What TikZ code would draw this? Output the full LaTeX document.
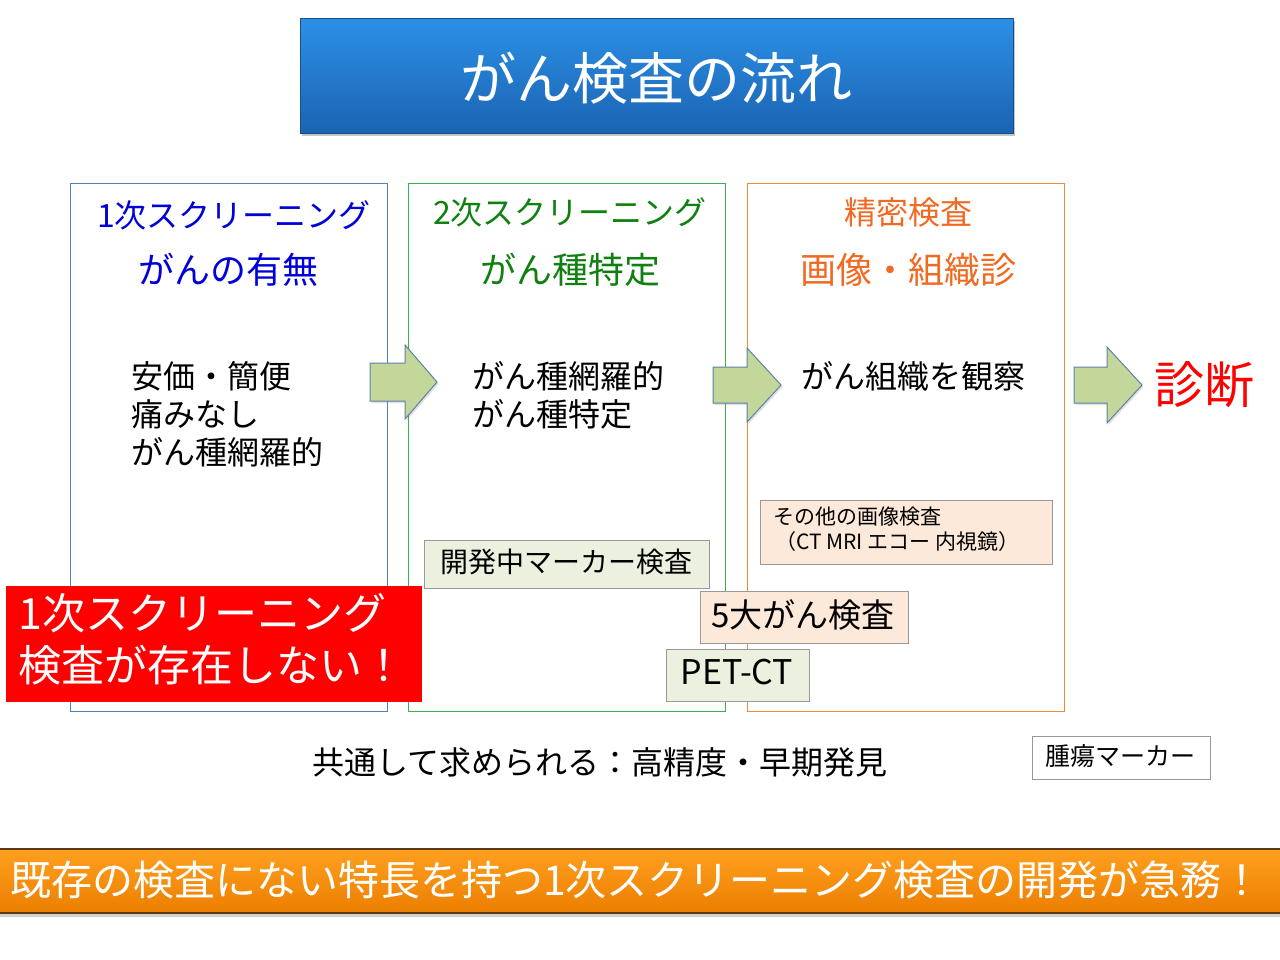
\documentclass[tikz,border=0pt]{standalone}
\usepackage{fontspec}
\setmainfont{Noto Sans CJK JP}
\usetikzlibrary{shadows}
\definecolor{ttop}{HTML}{2C90E6}
\definecolor{tbot}{HTML}{1B63B2}
\definecolor{bblue}{HTML}{5082C0}
\definecolor{bgreen}{HTML}{3CB050}
\definecolor{borange}{HTML}{F08A40}
\definecolor{tblue}{HTML}{0000D8}
\definecolor{tgreen}{HTML}{108010}
\definecolor{torange}{HTML}{F06A22}
\definecolor{arrfill}{HTML}{C4D79B}
\definecolor{arrdraw}{HTML}{5E80A8}
\definecolor{lgreen}{HTML}{EBF1DE}
\definecolor{peach}{HTML}{FDE9D9}
\definecolor{otop}{HTML}{FFA020}
\definecolor{obot}{HTML}{EC7E00}
\definecolor{obrd}{HTML}{5A3A12}
\newcommand\fz[2]{\fontsize{#1pt}{#2pt}\selectfont}
\begin{document}
\begin{tikzpicture}[x=1pt,y=-1pt,
  stage/.style={draw=#1, line width=1.1pt, minimum width=317pt, minimum height=528pt, anchor=north west, inner sep=0pt},
  tag/.style={draw=gray!80, line width=0.8pt, fill=#1, anchor=north west, inner sep=0pt},
  txt/.style={inner sep=0pt, align=left},
  blockarr/.style={fill=arrfill, draw=arrdraw, line width=1pt, line join=miter,
     drop shadow={shadow xshift=1.5pt, shadow yshift=-2pt, opacity=0.25}}]
\useasboundingbox (0,0) rectangle (1280,959);
\fill[white] (0,0) rectangle (1280,959);

% title
\node[anchor=north west, minimum width=713pt, minimum height=115pt, inner sep=0pt,
  top color=ttop, bottom color=tbot, draw=tbot!80!black, line width=0.6pt,
  drop shadow={shadow xshift=2pt, shadow yshift=-3pt, opacity=0.45}] (title) at (300,18) {};
\node[txt, text=white, font=\fz{56}{60}] (titletxt) at (656,78) {がん検査の流れ};

% stage boxes
\node[stage=bblue] (b1) at (70,183) {};
\node[stage=bgreen] (b2) at (408,183) {};
\node[stage=borange] (b3) at (747,183) {};

% headers
\node[txt, text=tblue, font=\fz{32}{36}] (h1a) at (234,215) {1次スクリーニング};
\node[txt, text=tblue, font=\fz{36}{40}] (h1b) at (228,270) {がんの有無};
\node[txt, text=tgreen, font=\fz{32}{36}] (h2a) at (570,212) {2次スクリーニング};
\node[txt, text=tgreen, font=\fz{36}{40}] (h2b) at (570,270) {がん種特定};
\node[txt, text=torange, font=\fz{32}{36}] (h3a) at (908,212) {精密検査};
\node[txt, text=torange, font=\fz{36}{40}] (h3b) at (908,270) {画像・組織診};

% bodies
\node[txt, anchor=west, font=\fz{32}{38}] (t1) at (131,414) {安価・簡便\\痛みなし\\がん種網羅的};
\node[txt, anchor=west, font=\fz{32}{38}] (t2) at (472,395) {がん種網羅的\\がん種特定};
\node[txt, anchor=west, font=\fz{32}{38}] (t3) at (801,376) {がん組織を観察};

% block arrows
\path[blockarr] (370,363) -- (405,363) -- (405,345) -- (437,382) -- (405,419) -- (405,401) -- (370,401) -- cycle;
\path[blockarr] (713,367) -- (747,367) -- (747,348) -- (781,385) -- (747,422) -- (747,403) -- (713,403) -- cycle;
\path[blockarr] (1074,367) -- (1107,367) -- (1107,347) -- (1142,385) -- (1107,423) -- (1107,403) -- (1074,403) -- cycle;

\node[txt, text=red, font=\fz{50}{54}] (diag) at (1204,385) {診断};

% tags
\node[tag=peach, minimum width=292pt, minimum height=64pt] (other) at (760,500) {};
\node[txt, anchor=west, font=\fz{21}{24}] (othert1) at (773,517) {その他の画像検査};
\node[txt, anchor=west, font=\fz{21}{24}] (othert2) at (775,542) {（CT MRI エコー 内視鏡）};

\node[tag=lgreen, minimum width=285pt, minimum height=48pt] (dev) at (424,540) {};
\node[txt, font=\fz{28}{32}] (devt) at (566,562) {開発中マーカー検査};

\node[tag=peach, minimum width=208pt, minimum height=52pt] (five) at (700,591) {};
\node[txt, font=\fz{33}{36}] (fivet) at (803,615) {5大がん検査};

\node[tag=lgreen, minimum width=143pt, minimum height=52pt] (pet) at (666,649) {};
\node[txt, font=\fz{34}{36}] (pett) at (737,672) {PET-CT};

% red box
\node[fill=red, anchor=north west, minimum width=416pt, minimum height=116pt, inner sep=0pt] (redbox) at (6,586) {};
\node[txt, anchor=west, text=white, font=\fz{43}{52}] (redt) at (18,639) {1次スクリーニング\\検査が存在しない！};

% common requirement
\node[txt, font=\fz{32}{36}] (common) at (600,762) {共通して求められる：高精度・早期発見};

\node[tag=white, minimum width=178pt, minimum height=43pt] (tumor) at (1032,736) {};
\node[txt, font=\fz{25}{28}] (tumort) at (1120,756) {腫瘍マーカー};

% bottom bar
\node[anchor=north west, minimum width=1286pt, minimum height=64pt, inner sep=0pt,
  top color=otop, bottom color=obot, draw=obrd, line width=1.5pt,
  drop shadow={shadow xshift=0pt, shadow yshift=-4pt, opacity=0.35}] (bar) at (-3,848) {};
\node[txt, anchor=west, text=white, font=\fz{41}{44}] (bart) at (10,880) {既存の検査にない特長を持つ1次スクリーニング検査の開発が急務！};
\end{tikzpicture}
\end{document}
